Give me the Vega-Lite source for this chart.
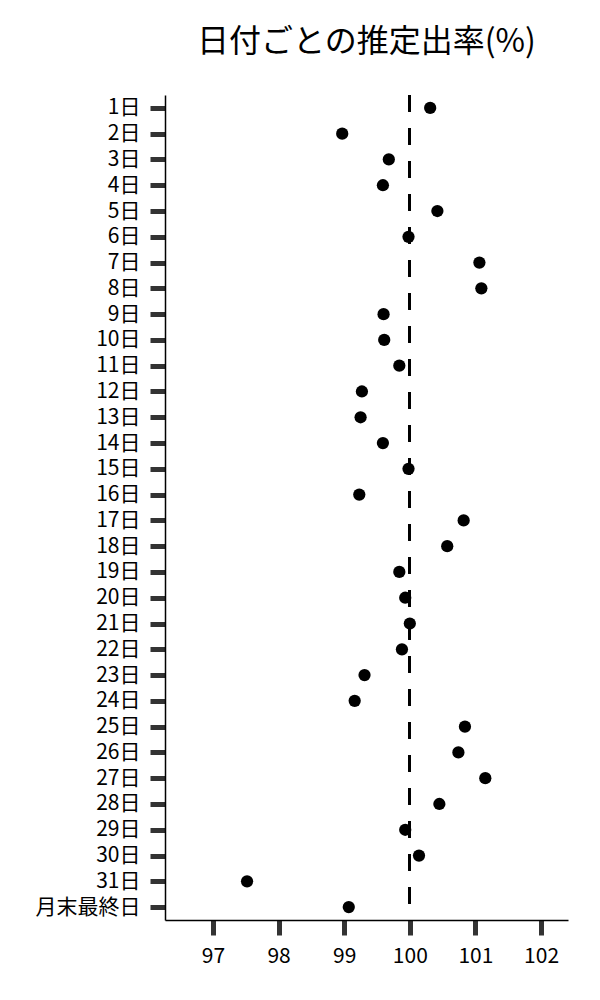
{
  "$schema": "https://vega.github.io/schema/vega-lite/v6.json",
  "autosize": "none",
  "width": 403,
  "height": 825,
  "padding": {"left": 165, "top": 95, "right": 32, "bottom": 80},
  "background": "white",
  "title": {
    "text": "日付ごとの推定出率(%)",
    "font": "Noto Sans CJK JP",
    "fontSize": 32,
    "fontWeight": "normal",
    "color": "black",
    "anchor": "middle",
    "frame": "group",
    "baseline": "alphabetic",
    "offset": 10
  },
  "data": {
    "values": [
      {"day": "1日", "rate": 100.31},
      {"day": "2日", "rate": 98.97},
      {"day": "3日", "rate": 99.68},
      {"day": "4日", "rate": 99.59},
      {"day": "5日", "rate": 100.42},
      {"day": "6日", "rate": 99.98},
      {"day": "7日", "rate": 101.06},
      {"day": "8日", "rate": 101.09},
      {"day": "9日", "rate": 99.6},
      {"day": "10日", "rate": 99.61},
      {"day": "11日", "rate": 99.84},
      {"day": "12日", "rate": 99.27},
      {"day": "13日", "rate": 99.25},
      {"day": "14日", "rate": 99.59},
      {"day": "15日", "rate": 99.98},
      {"day": "16日", "rate": 99.23},
      {"day": "17日", "rate": 100.82},
      {"day": "18日", "rate": 100.57},
      {"day": "19日", "rate": 99.84},
      {"day": "20日", "rate": 99.93},
      {"day": "21日", "rate": 100.0},
      {"day": "22日", "rate": 99.88},
      {"day": "23日", "rate": 99.31},
      {"day": "24日", "rate": 99.16},
      {"day": "25日", "rate": 100.84},
      {"day": "26日", "rate": 100.74},
      {"day": "27日", "rate": 101.15},
      {"day": "28日", "rate": 100.45},
      {"day": "29日", "rate": 99.93},
      {"day": "30日", "rate": 100.14},
      {"day": "31日", "rate": 97.52},
      {"day": "月末最終日", "rate": 99.07}
    ]
  },
  "layer": [
    {
      "mark": {"type": "rule", "color": "black", "strokeWidth": 2, "strokeDash": [16.5, 16.5]},
      "encoding": {
        "x": {"datum": 100, "type": "quantitative"}
      }
    },
    {
      "mark": {"type": "point", "filled": true, "color": "black", "opacity": 1, "size": 150},
      "encoding": {
        "y": {
          "field": "day",
          "type": "nominal",
          "sort": null,
          "title": null,
          "axis": {
            "labelFontSize": 21,
            "labelPadding": 10
          }
        },
        "x": {
          "field": "rate",
          "type": "quantitative",
          "title": null,
          "scale": {"domain": [96.27, 102.41], "nice": false, "zero": false},
          "axis": {
            "values": [97, 98, 99, 100, 101, 102],
            "format": "d",
            "labelFontSize": 21,
            "labelPadding": 10
          }
        }
      }
    }
  ],
  "config": {
    "view": {"stroke": null},
    "font": "Noto Sans CJK JP",
    "axis": {
      "grid": false,
      "domainColor": "black",
      "domainWidth": 1.5,
      "tickColor": "#333333",
      "tickWidth": 5,
      "tickSize": 15,
      "labelColor": "black",
      "labelFont": "Noto Sans CJK JP"
    }
  }
}
